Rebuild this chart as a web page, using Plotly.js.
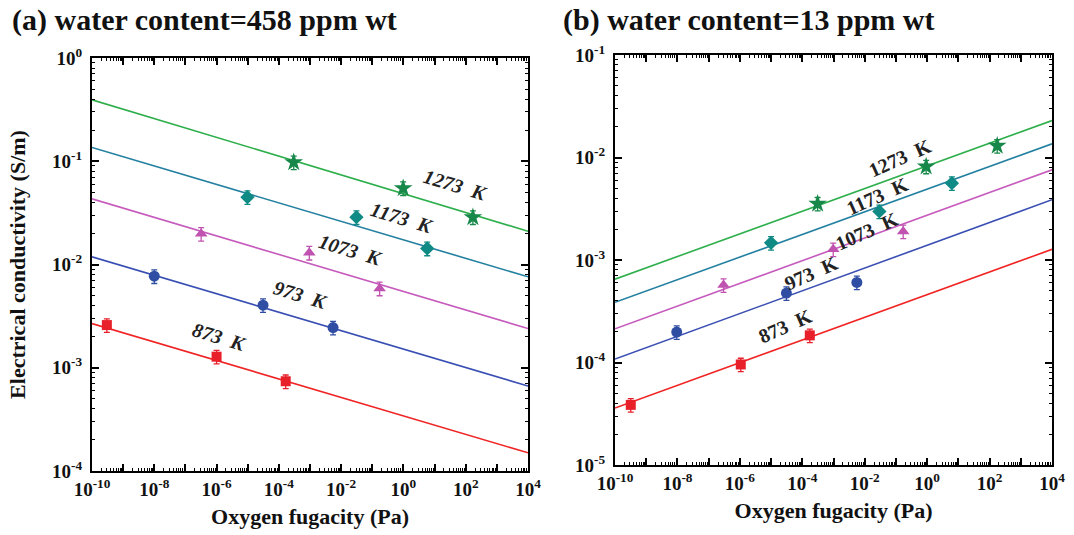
<!DOCTYPE html>
<html>
<head>
<meta charset="utf-8">
<script src="https://cdn.plot.ly/plotly-3.0.1.min.js"></script>
<style>
  html, body { margin: 0; padding: 0; background: #ffffff; }
  #chart { width: 1074px; height: 535px; }
</style>
</head>
<body>
<div id="chart"></div>
<script>
// Temperatures of the five measurement series
const temps = ['873 K', '973 K', '1073 K', '1173 K', '1273 K'];

// Panel (a): water content 458 ppm wt — oxygen fugacity (Pa) and conductivity (S/m)
const fo2A_873  = [3.0e-10, 1.0e-6, 1.66e-4];
const sigA_873  = [2.59e-3, 1.28e-3, 7.4e-4];
const fo2A_973  = [1.0e-8, 3.1e-5, 5.5e-3];
const sigA_973  = [7.7e-3, 4.04e-3, 2.45e-3];
const fo2A_1073 = [3.2e-7, 9.5e-4, 0.172];
const sigA_1073 = [0.0198, 0.0130, 0.00586];
const fo2A_1173 = [9.8e-6, 0.031, 5.8];
const sigA_1173 = [0.0449, 0.0287, 0.0143];
const fo2A_1273 = [3.0e-4, 0.98, 170];
const sigA_1273 = [0.0977, 0.0548, 0.0287];

// Panel (b): water content 13 ppm wt
const fo2B_873  = [3.2e-10, 1.07e-6, 1.74e-4];
const sigB_873  = [3.86e-5, 9.57e-5, 1.84e-4];
const fo2B_973  = [9.5e-9, 3.1e-5, 5.6e-3];
const sigB_973  = [1.98e-4, 4.76e-4, 6.04e-4];
const fo2B_1073 = [3.0e-7, 9.8e-4, 0.171];
const sigB_1073 = [5.69e-4, 1.27e-3, 1.9e-3];
const fo2B_1173 = [1.0e-5, 0.0295, 6.2];
const sigB_1173 = [1.47e-3, 2.98e-3, 5.62e-3];
const fo2B_1273 = [3.1e-4, 0.93, 176];
const sigB_1273 = [3.54e-3, 8.17e-3, 0.0130];

// Fitted power-law lines, given by their conductivity at both ends of the fO2 range
const fitRange = [1e-10, 1e4];
const fitA_873  = [2.68e-3, 1.50e-4];
const fitA_973  = [1.186e-2, 6.65e-4];
const fitA_1073 = [4.32e-2, 2.40e-3];
const fitA_1173 = [0.136, 7.6e-3];
const fitA_1273 = [0.393, 0.021];
const fitB_873  = [3.59e-5, 1.27e-3];
const fitB_973  = [1.08e-4, 3.87e-3];
const fitB_1073 = [2.13e-4, 7.59e-3];
const fitB_1173 = [3.86e-4, 1.36e-2];
const fitB_1273 = [6.5e-4, 2.29e-2];

// Tick values and labels
const xTickVals = [1e-10, 1e-9, 1e-8, 1e-7, 1e-6, 1e-5, 1e-4, 1e-3, 1e-2, 1e-1, 1, 10, 100, 1000, 1e4];
const xTickText = ['10<sup>-10</sup>', '', '10<sup>-8</sup>', '', '10<sup>-6</sup>', '', '10<sup>-4</sup>', '',
                   '10<sup>-2</sup>', '', '10<sup>0</sup>', '', '10<sup>2</sup>', '', '10<sup>4</sup>'];
const yTickValsA = [1e-4, 1e-3, 1e-2, 1e-1, 1];
const yTickTextA = ['10<sup>-4</sup>', '10<sup>-3</sup>', '10<sup>-2</sup>', '10<sup>-1</sup>', '10<sup>0</sup>'];
const yTickValsB = [1e-5, 1e-4, 1e-3, 1e-2, 1e-1];
const yTickTextB = ['10<sup>-5</sup>', '10<sup>-4</sup>', '10<sup>-3</sup>', '10<sup>-2</sup>', '10<sup>-1</sup>'];

// Styles per temperature
const lineColors   = ['#f02424', '#3a4fb3', '#c65bbd', '#2380a0', '#2eaf4c'];
const markerColors = ['#e8202a', '#2f4ea3', '#c052b0', '#0f8a84', '#17884a'];
const symbols      = ['square', 'circle', 'triangle-up', 'diamond', 'star'];
const markerSizes  = [10, 11, 11, 11, 14];

const seriesA = [[fo2A_873, sigA_873, fitA_873], [fo2A_973, sigA_973, fitA_973],
                 [fo2A_1073, sigA_1073, fitA_1073], [fo2A_1173, sigA_1173, fitA_1173],
                 [fo2A_1273, sigA_1273, fitA_1273]];
const seriesB = [[fo2B_873, sigB_873, fitB_873], [fo2B_973, sigB_973, fitB_973],
                 [fo2B_1073, sigB_1073, fitB_1073], [fo2B_1173, sigB_1173, fitB_1173],
                 [fo2B_1273, sigB_1273, fitB_1273]];

const FONT = '"Liberation Serif", serif';
const traces = [];

function addPanel(series, xa, ya) {
  series.forEach((s, i) => {
    traces.push({
      x: fitRange, y: s[2], xaxis: xa, yaxis: ya,
      mode: 'lines', line: { color: lineColors[i], width: 1.6 },
      hoverinfo: 'skip', showlegend: false
    });
  });
  series.forEach((s, i) => {
    traces.push({
      x: s[0], y: s[1], xaxis: xa, yaxis: ya, name: temps[i],
      mode: 'markers',
      marker: { symbol: symbols[i], size: markerSizes[i], color: markerColors[i] },
      error_y: { type: 'percent', value: 15, color: markerColors[i], thickness: 1.3, width: 3 },
      showlegend: false
    });
  });
}
addPanel(seriesA, 'x', 'y');
addPanel(seriesB, 'x2', 'y2');

function xAxis(domain, anchor) {
  return {
    type: 'log', range: [-10, 4], domain: domain, anchor: anchor,
    tickmode: 'array', tickvals: xTickVals, ticktext: xTickText,
    ticks: 'inside', ticklen: 7, tickwidth: 2, tickcolor: '#000',
    minor: { ticks: 'inside', ticklen: 3, tickwidth: 1, tickcolor: '#000', dtick: 'D1' },
    showline: true, linewidth: 2, linecolor: '#000', mirror: 'allticks',
    showgrid: false, zeroline: false,
    tickfont: { family: FONT, size: 19, color: '#111', weight: 'bold' },
    title: { text: 'Oxygen fugacity (Pa)', standoff: 10,
             font: { family: FONT, size: 22, color: '#111', weight: 'bold' } },
    automargin: false
  };
}
function yAxis(domain, anchor, range, vals, text, title) {
  return {
    type: 'log', range: range, domain: domain, anchor: anchor,
    tickmode: 'array', tickvals: vals, ticktext: text,
    ticks: 'inside', ticklen: 7, tickwidth: 2, tickcolor: '#000',
    minor: { ticks: 'inside', ticklen: 3, tickwidth: 1, tickcolor: '#000', dtick: 'D1' },
    showline: true, linewidth: 2, linecolor: '#000', mirror: 'allticks',
    showgrid: false, zeroline: false,
    tickfont: { family: FONT, size: 19, color: '#111', weight: 'bold' },
    ticklabelstandoff: 4,
    title: { text: title, standoff: 20,
             font: { family: FONT, size: 22, color: '#111', weight: 'bold' } },
    automargin: false
  };
}

// Temperature labels placed along the fitted lines (log10 coordinates)
const labelFontA = { family: FONT, size: 20, color: '#222', weight: 'bold', style: 'italic' };
const labelFontB = { family: FONT, size: 20, color: '#222', weight: 'bold' };
const nb = '\u00a0\u00a0';
const annotations = [
  { xref: 'paper', yref: 'paper', x: 0.009, y: 0.963, xanchor: 'left', yanchor: 'middle', showarrow: false,
    text: '(a) water content=458 ppm wt', font: { family: FONT, size: 30, color: '#111', weight: 'bold' } },
  { xref: 'paper', yref: 'paper', x: 0.522, y: 0.963, xanchor: 'left', yanchor: 'middle', showarrow: false,
    text: '(b) water content=13 ppm wt', font: { family: FONT, size: 30, color: '#111', weight: 'bold' } },

  { xref: 'x', yref: 'y', x: 1.67, y: -1.23, text: '1273' + nb + 'K', textangle: 17, showarrow: false, font: labelFontA },
  { xref: 'x', yref: 'y', x: -0.04, y: -1.55, text: '1173' + nb + 'K', textangle: 17, showarrow: false, font: labelFontA },
  { xref: 'x', yref: 'y', x: -1.7, y: -1.861, text: '1073' + nb + 'K', textangle: 17, showarrow: false, font: labelFontA },
  { xref: 'x', yref: 'y', x: -3.3, y: -2.297, text: '973' + nb + 'K', textangle: 17, showarrow: false, font: labelFontA },
  { xref: 'x', yref: 'y', x: -5.9, y: -2.70, text: '873' + nb + 'K', textangle: 17, showarrow: false, font: labelFontA },

  { xref: 'x2', yref: 'y2', x: -0.877, y: -2.006, text: '1273' + nb + 'K', textangle: -24, showarrow: false, font: labelFontB },
  { xref: 'x2', yref: 'y2', x: -1.59, y: -2.38, text: '1173' + nb + 'K', textangle: -24, showarrow: false, font: labelFontB },
  { xref: 'x2', yref: 'y2', x: -1.92, y: -2.72, text: '1073' + nb + 'K', textangle: -24, showarrow: false, font: labelFontB },
  { xref: 'x2', yref: 'y2', x: -3.72, y: -3.123, text: '973' + nb + 'K', textangle: -24, showarrow: false, font: labelFontB },
  { xref: 'x2', yref: 'y2', x: -4.55, y: -3.64, text: '873' + nb + 'K', textangle: -24, showarrow: false, font: labelFontB }
];

const layout = {
  width: 1074, height: 535,
  margin: { l: 0, r: 0, t: 0, b: 0 },
  paper_bgcolor: '#ffffff', plot_bgcolor: '#ffffff',
  font: { family: FONT, color: '#111' },
  showlegend: false,
  xaxis:  xAxis([92 / 1074, 528 / 1074], 'y'),
  yaxis:  yAxis([64 / 535, 477 / 535], 'x', [-4, 0], yTickValsA, yTickTextA, 'Electrical conductivity (S/m)'),
  xaxis2: xAxis([615 / 1074, 1052 / 1074], 'y2'),
  yaxis2: yAxis([70 / 535, 480 / 535], 'x2', [-5, -1], yTickValsB, yTickTextB, ''),
  annotations: annotations
};

Plotly.newPlot('chart', traces, layout, { displayModeBar: false, staticPlot: true });
</script>
</body>
</html>
